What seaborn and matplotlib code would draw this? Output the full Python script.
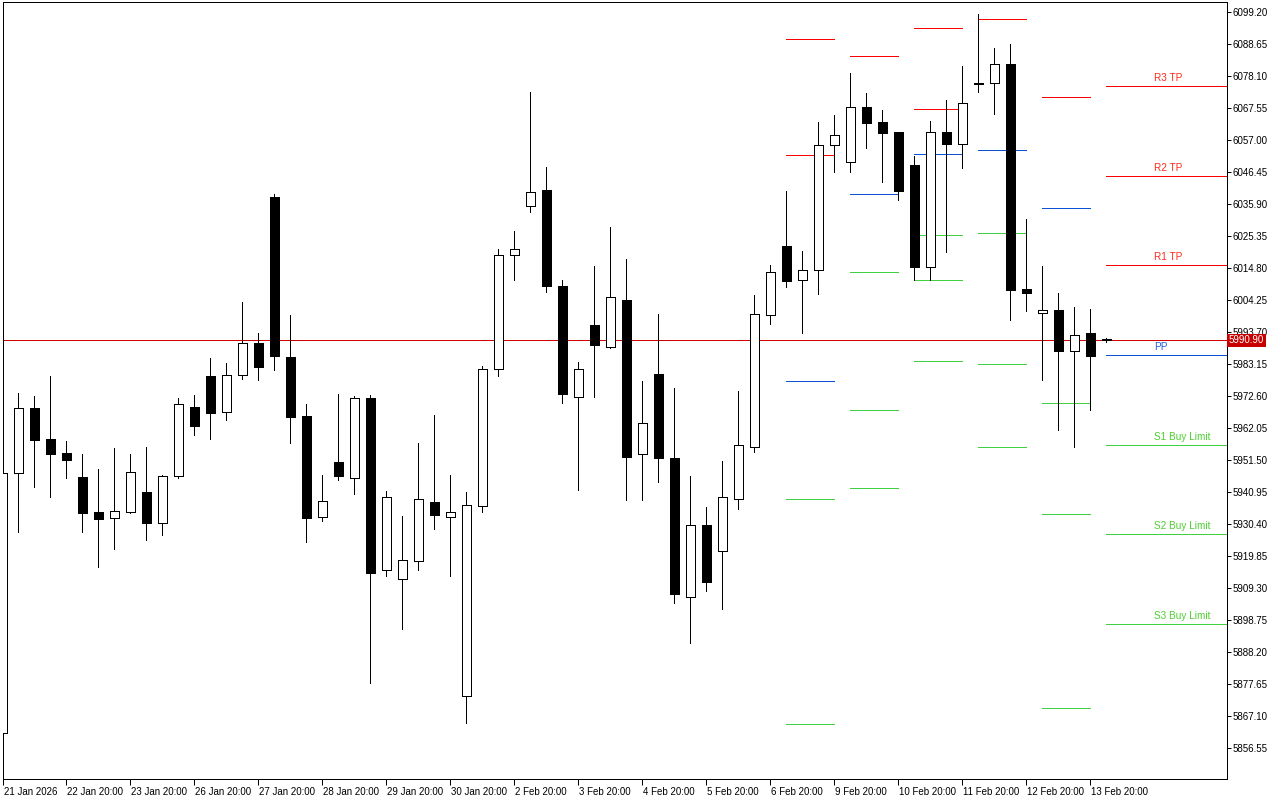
import matplotlib
matplotlib.use("Agg")
import matplotlib.pyplot as plt
import matplotlib.transforms as mtransforms
import numpy as np
import seaborn as sns

# H6 candles, one row per bar (index 0 = 21 Jan 2026)
opens = [5861.4, 5947.1, 5968.6, 5958.4, 5953.8, 5945.9, 5934.4, 5932.3, 5934.5, 5940.9,
         5930.8, 5946.1, 5969.0, 5979.2, 5967.2, 5979.4, 5990.0, 6038.2, 5985.5, 5966.0,
         5932.6, 5951.0, 5945.7, 5971.8, 5915.4, 5912.4, 5918.3, 5937.6, 5932.6, 5873.6,
         5936.5, 5981.5, 6019.0, 6035.2, 6040.6, 6009.0, 5972.3, 5995.9, 5988.7, 6004.3,
         5953.5, 5979.9, 5952.3, 5906.4, 5930.1, 5921.5, 5938.7, 5955.8, 5999.3, 6021.9,
         6010.7, 6014.2, 6055.5, 6049.9, 6068.0, 6062.9, 6059.6, 6048.7, 6015.2, 6059.8,
         6055.8, 6075.9, 6075.7, 6082.0, 6007.8, 5999.9, 6000.8, 5987.6, 5993.3, 5991.5]
highs = [5947.5, 5973.6, 5972.6, 5979.2, 5957.8, 5953.5, 5948.5, 5955.5, 5953.5, 5955.8,
         5946.5, 5971.9, 5972.9, 5985.1, 5983.5, 6003.6, 5993.4, 6039.2, 5999.3, 5970.0,
         5946.6, 5973.2, 5972.5, 5972.8, 5941.4, 5933.0, 5957.0, 5966.2, 5946.4, 5941.0,
         5982.6, 6021.0, 6027.1, 6072.8, 6048.1, 6011.0, 5983.7, 6015.3, 6028.4, 6017.9,
         5977.4, 5999.5, 5975.2, 5946.1, 5936.1, 5951.3, 5974.4, 6005.8, 6015.8, 6040.1,
         6020.4, 6062.9, 6065.3, 6079.1, 6072.5, 6066.9, 6059.6, 6051.7, 6063.2, 6070.2,
         6081.4, 6098.5, 6087.2, 6088.6, 6030.9, 6015.3, 6006.4, 6002.1, 6001.2, 5991.8]
lows = [5861.0, 5927.9, 5942.7, 5939.4, 5945.7, 5927.9, 5916.3, 5922.3, 5934.0, 5925.2,
        5926.9, 5945.7, 5959.8, 5958.5, 5964.8, 5978.3, 5978.0, 5981.3, 5957.2, 5924.6,
        5931.5, 5944.9, 5940.3, 5878.1, 5913.3, 5895.9, 5915.4, 5928.6, 5913.3, 5864.8,
        5934.4, 5979.1, 6011.0, 6033.4, 6006.8, 5970.3, 5941.7, 5972.3, 5988.4, 5938.4,
        5938.4, 5944.1, 5904.4, 5891.1, 5908.2, 5902.3, 5935.3, 5954.3, 5996.3, 6008.6,
        5993.4, 6006.3, 6046.5, 6046.3, 6054.5, 6043.0, 6037.3, 6010.7, 6010.7, 6020.1,
        6047.9, 6072.9, 6065.7, 5997.6, 6000.7, 5977.9, 5961.4, 5955.9, 5968.0, 5990.3]
closes = [5947.1, 5968.5, 5958.2, 5953.6, 5951.6, 5934.1, 5932.1, 5934.6, 5947.4, 5930.8,
          5946.2, 5970.0, 5962.8, 5967.1, 5979.5, 5990.0, 5982.3, 5985.9, 5965.8, 5932.5,
          5937.9, 5946.3, 5971.8, 5914.3, 5939.4, 5918.4, 5938.5, 5933.4, 5934.5, 5936.6,
          5981.6, 6019.0, 6021.0, 6039.8, 6008.8, 5973.3, 5981.5, 5989.4, 6005.2, 5952.5,
          5963.7, 5952.2, 5907.3, 5930.1, 5911.2, 5939.3, 5956.5, 5999.5, 6013.5, 6010.5,
          6014.2, 6055.5, 6058.8, 6068.0, 6062.7, 6059.4, 6040.1, 6015.2, 6059.5, 6055.8,
          6069.1, 6075.5, 6082.0, 6007.5, 6006.6, 6000.8, 5987.4, 5992.7, 5985.8, 5990.9]

current_price = 5990.90

# daily pivot levels of earlier days (first bar of each day)
past_day_start = [49, 53, 57, 61, 65]
past_r = [[6090.2, 6052.0], [6084.6], [6093.8, 6067.1], [6096.8], [6071.1]]
past_pp = [5977.4, 6039.1, 6052.3, 6053.6, 6034.5]
past_s = [[5938.7, 5864.4], [6013.4, 5967.9, 5942.2], [6025.6, 6010.7, 5984.0],
          [6026.2, 5983.0, 5955.7], [5970.2, 5933.6, 5869.6]]

# levels of the current day
today_start = 69
level_names = ["R3 TP", "R2 TP", "R1 TP", "PP", "S1 Buy Limit", "S2 Buy Limit", "S3 Buy Limit"]
level_values = [6074.7, 6045.1, 6015.7, 5986.0, 5956.4, 5927.0, 5897.3]
level_kinds = ["r", "r", "r", "pp", "s", "s", "s"]

x_tick_bars = list(range(0, 69, 4))
x_tick_labels = ["21 Jan 2026", "22 Jan 20:00", "23 Jan 20:00", "26 Jan 20:00", "27 Jan 20:00",
                 "28 Jan 20:00", "29 Jan 20:00", "30 Jan 20:00", "2 Feb 20:00", "3 Feb 20:00",
                 "4 Feb 20:00", "5 Feb 20:00", "6 Feb 20:00", "9 Feb 20:00", "10 Feb 20:00",
                 "11 Feb 20:00", "12 Feb 20:00", "13 Feb 20:00"]
y_ticks = [6099.20, 6088.65, 6078.10, 6067.55, 6057.00, 6046.45, 6035.90, 6025.35, 6014.80,
           6004.25, 5993.70, 5983.15, 5972.60, 5962.05, 5951.50, 5940.95, 5930.40, 5919.85,
           5909.30, 5898.75, 5888.20, 5877.65, 5867.10, 5856.55]

line_colors = {"r": "#ff0000", "pp": "#0a50d8", "s": "#3fd03f"}
text_colors = {"r": "#ff2a1a", "pp": "#2060e0", "s": "#4ccf2e"}

LW = 0.72  # one pixel at 100 dpi

sns.set_theme(style="white")
plt.rcParams["font.family"] = ["Liberation Sans", "DejaVu Sans"]

fig = plt.figure(figsize=(12.8, 8), dpi=100)
ax = fig.add_axes([2.5 / 1280, 21 / 800, 1224.5 / 1280, 777 / 800])

x = np.arange(len(opens))
o = np.array(opens)
c = np.array(closes)
bull = c >= o

# wicks
ax.vlines(x, lows, highs, color="black", linewidth=LW, zorder=2, antialiased=False)
# bodies
ax.bar(x, np.abs(c - o), bottom=np.minimum(o, c), width=0.6,
       color=np.where(bull, "white", "black"), edgecolor="black", linewidth=LW,
       zorder=3, antialiased=False)

# current price line
ax.axhline(current_price, color="#d40000", linewidth=LW, zorder=1, antialiased=False)

# past pivot segments
for start, rs, pp, ss in zip(past_day_start, past_r, past_pp, past_s):
    for v in rs:
        ax.hlines(v, start, start + 3, color=line_colors["r"], linewidth=LW, zorder=1,
                  antialiased=False)
    ax.hlines(pp, start, start + 3, color=line_colors["pp"], linewidth=LW, zorder=1,
              antialiased=False)
    for v in ss:
        ax.hlines(v, start, start + 3, color=line_colors["s"], linewidth=LW, zorder=1,
                  antialiased=False)

# current day levels with labels
for name, v, kind in zip(level_names, level_values, level_kinds):
    ax.hlines(v, today_start, 80, color=line_colors[kind], linewidth=LW, zorder=1,
              antialiased=False)
    ax.annotate(name, (71.98, v), xytext=(0, 2.5), textcoords="offset points",
                ha="left", va="bottom", fontsize=7.2, color=text_colors[kind])

ax.set_xlim(0.0125, 76.54)
ax.set_ylim(5846.33, 6102.5)

ax.yaxis.tick_right()
ax.set_yticks(y_ticks)
ax.set_yticklabels([f"{v:.2f}" for v in y_ticks])
ax.set_xticks(x_tick_bars)
ax.set_xticklabels(x_tick_labels, ha="left")
ax.tick_params(axis="y", which="major", right=True, left=False, direction="out",
               length=3, width=LW, pad=1, labelsize=7, colors="black")
ax.tick_params(axis="x", which="major", bottom=True, direction="out",
               length=4, width=LW, pad=1.5, labelsize=7, colors="black")
offset = mtransforms.ScaledTranslation(1 / 100, 0, fig.dpi_scale_trans)
for lbl in ax.get_xticklabels():
    lbl.set_transform(lbl.get_transform() + offset)

for sp in ax.spines.values():
    sp.set_color("black")
    sp.set_linewidth(LW)

# price tag on the right axis
trans = mtransforms.blended_transform_factory(ax.transAxes, ax.transData)
ax.text(1.0016, current_price, f"{current_price:.2f}", transform=trans, ha="left", va="center",
        fontsize=7, color="white", clip_on=False, zorder=5,
        bbox=dict(facecolor="#c80000", edgecolor="none", boxstyle="square,pad=0.2"))

ax.grid(False)
fig.savefig("out.png", dpi=100, facecolor="white")
